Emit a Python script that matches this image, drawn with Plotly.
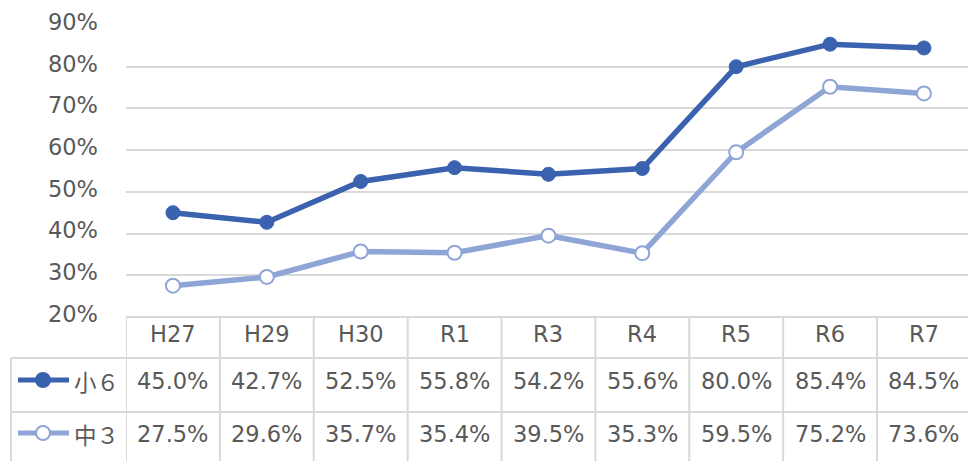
import plotly.graph_objects as go

# Survey years and rates (%) per grade
categories = ["H27", "H29", "H30", "R1", "R3", "R4", "R5", "R6", "R7"]
series_names = ["小６", "中３"]
elementary = [45.0, 42.7, 52.5, 55.8, 54.2, 55.6, 80.0, 85.4, 84.5]
junior_high = [27.5, 29.6, 35.7, 35.4, 39.5, 35.3, 59.5, 75.2, 73.6]
y_ticks = [20, 30, 40, 50, 60, 70, 80, 90]

W, H = 968, 461
ML, MR, MT, MB = 126, 0, 25, 144
COL_W = 93.875  # pixel width of one category column
PLOT_W = W - ML - MR
PLOT_H = H - MT - MB

DARK = "#3A62AE"
LIGHT = "#8EA5D6"
GRID = "#D9D9D9"
TEXT = "#595959"
FONT = "DejaVu Sans, Verdana, sans-serif"
JP_FONT = "Noto Sans CJK JP, sans-serif"
FS = 22.5


def px_x(px):
    return (px - ML) / PLOT_W


def px_y(py):
    return (H - MB - py) / PLOT_H


x_idx = list(range(len(categories)))

fig = go.Figure()
fig.add_trace(go.Scatter(
    x=x_idx, y=junior_high, mode="lines+markers", name=series_names[1],
    line=dict(color=LIGHT, width=5.5),
    marker=dict(size=14, color="white", line=dict(color=LIGHT, width=2)),
    cliponaxis=False,
))
fig.add_trace(go.Scatter(
    x=x_idx, y=elementary, mode="lines+markers", name=series_names[0],
    line=dict(color=DARK, width=5.5),
    marker=dict(size=14, color=DARK, line=dict(color=DARK, width=1)),
    cliponaxis=False,
))

shapes = []
annotations = []

# Data table under the plot area
header_top, row1_top, row2_top, table_bottom = 317, 358, 412, 470
table_left = 11
line_style = dict(color=GRID, width=2)

# horizontal borders
shapes.append(dict(type="line", xref="paper", yref="paper", x0=0, x1=1.05,
                   y0=px_y(header_top), y1=px_y(header_top), line=line_style))
for ty in (row1_top, row2_top):
    shapes.append(dict(type="line", xref="paper", yref="paper",
                       x0=px_x(table_left), x1=1.05, y0=px_y(ty), y1=px_y(ty),
                       line=line_style))
# vertical borders between category columns
for i in range(len(categories) + 1):
    shapes.append(dict(type="line", xref="x", yref="paper", x0=i - 0.5, x1=i - 0.5,
                       y0=px_y(header_top), y1=px_y(table_bottom), line=line_style))
# left border of the legend column
shapes.append(dict(type="line", xref="paper", yref="paper",
                   x0=px_x(table_left), x1=px_x(table_left),
                   y0=px_y(row1_top), y1=px_y(table_bottom), line=line_style))

# header labels and values
rows = [(elementary, 381, DARK, DARK, series_names[0]),
        (junior_high, 434, LIGHT, "white", series_names[1])]
for i, cat in enumerate(categories):
    annotations.append(dict(x=i, y=px_y(334), xref="x", yref="paper", text=cat,
                            showarrow=False, font=dict(family=FONT, size=FS, color=TEXT),
                            xanchor="center", yanchor="middle"))
for values, cy, color, fill, name in rows:
    for i, v in enumerate(values):
        annotations.append(dict(x=i, y=px_y(cy), xref="x", yref="paper",
                                text=f"{v:.1f}%", showarrow=False,
                                font=dict(family=FONT, size=FS, color=TEXT),
                                xanchor="center", yanchor="middle"))
    # legend key inside the table
    shapes.append(dict(type="line", xref="paper", yref="paper",
                       x0=px_x(18), x1=px_x(69), y0=px_y(cy - 1), y1=px_y(cy - 1),
                       line=dict(color=color, width=5)))
    shapes.append(dict(type="circle", xref="paper", yref="paper",
                       xsizemode="pixel", ysizemode="pixel",
                       xanchor=px_x(43), yanchor=px_y(cy - 1),
                       x0=-7, x1=7, y0=-7, y1=7,
                       fillcolor=fill, line=dict(color=color, width=2)))
    annotations.append(dict(x=px_x(72), y=px_y(cy), xref="paper", yref="paper",
                            text=name, showarrow=False,
                            font=dict(family=JP_FONT, size=FS, color=TEXT),
                            xanchor="left", yanchor="middle"))

fig.update_layout(
    width=W, height=H,
    margin=dict(l=ML, r=MR, t=MT, b=MB, pad=0),
    paper_bgcolor="white", plot_bgcolor="white",
    showlegend=False,
    shapes=shapes, annotations=annotations,
    xaxis=dict(range=[-0.5, -0.5 + PLOT_W / COL_W], showgrid=False, zeroline=False,
               showticklabels=False, showline=False, fixedrange=True),
    yaxis=dict(range=[20, 90], tickvals=y_ticks, ticktext=[f"{t}%" for t in y_ticks],
               showgrid=True, gridcolor=GRID, gridwidth=1.5, zeroline=False,
               showline=False, ticks="", ticklabelstandoff=27, ticklabelshift=-3,
               tickfont=dict(family=FONT, size=FS, color=TEXT), fixedrange=True),
)

fig.write_html("out.html", config={"displayModeBar": False})
